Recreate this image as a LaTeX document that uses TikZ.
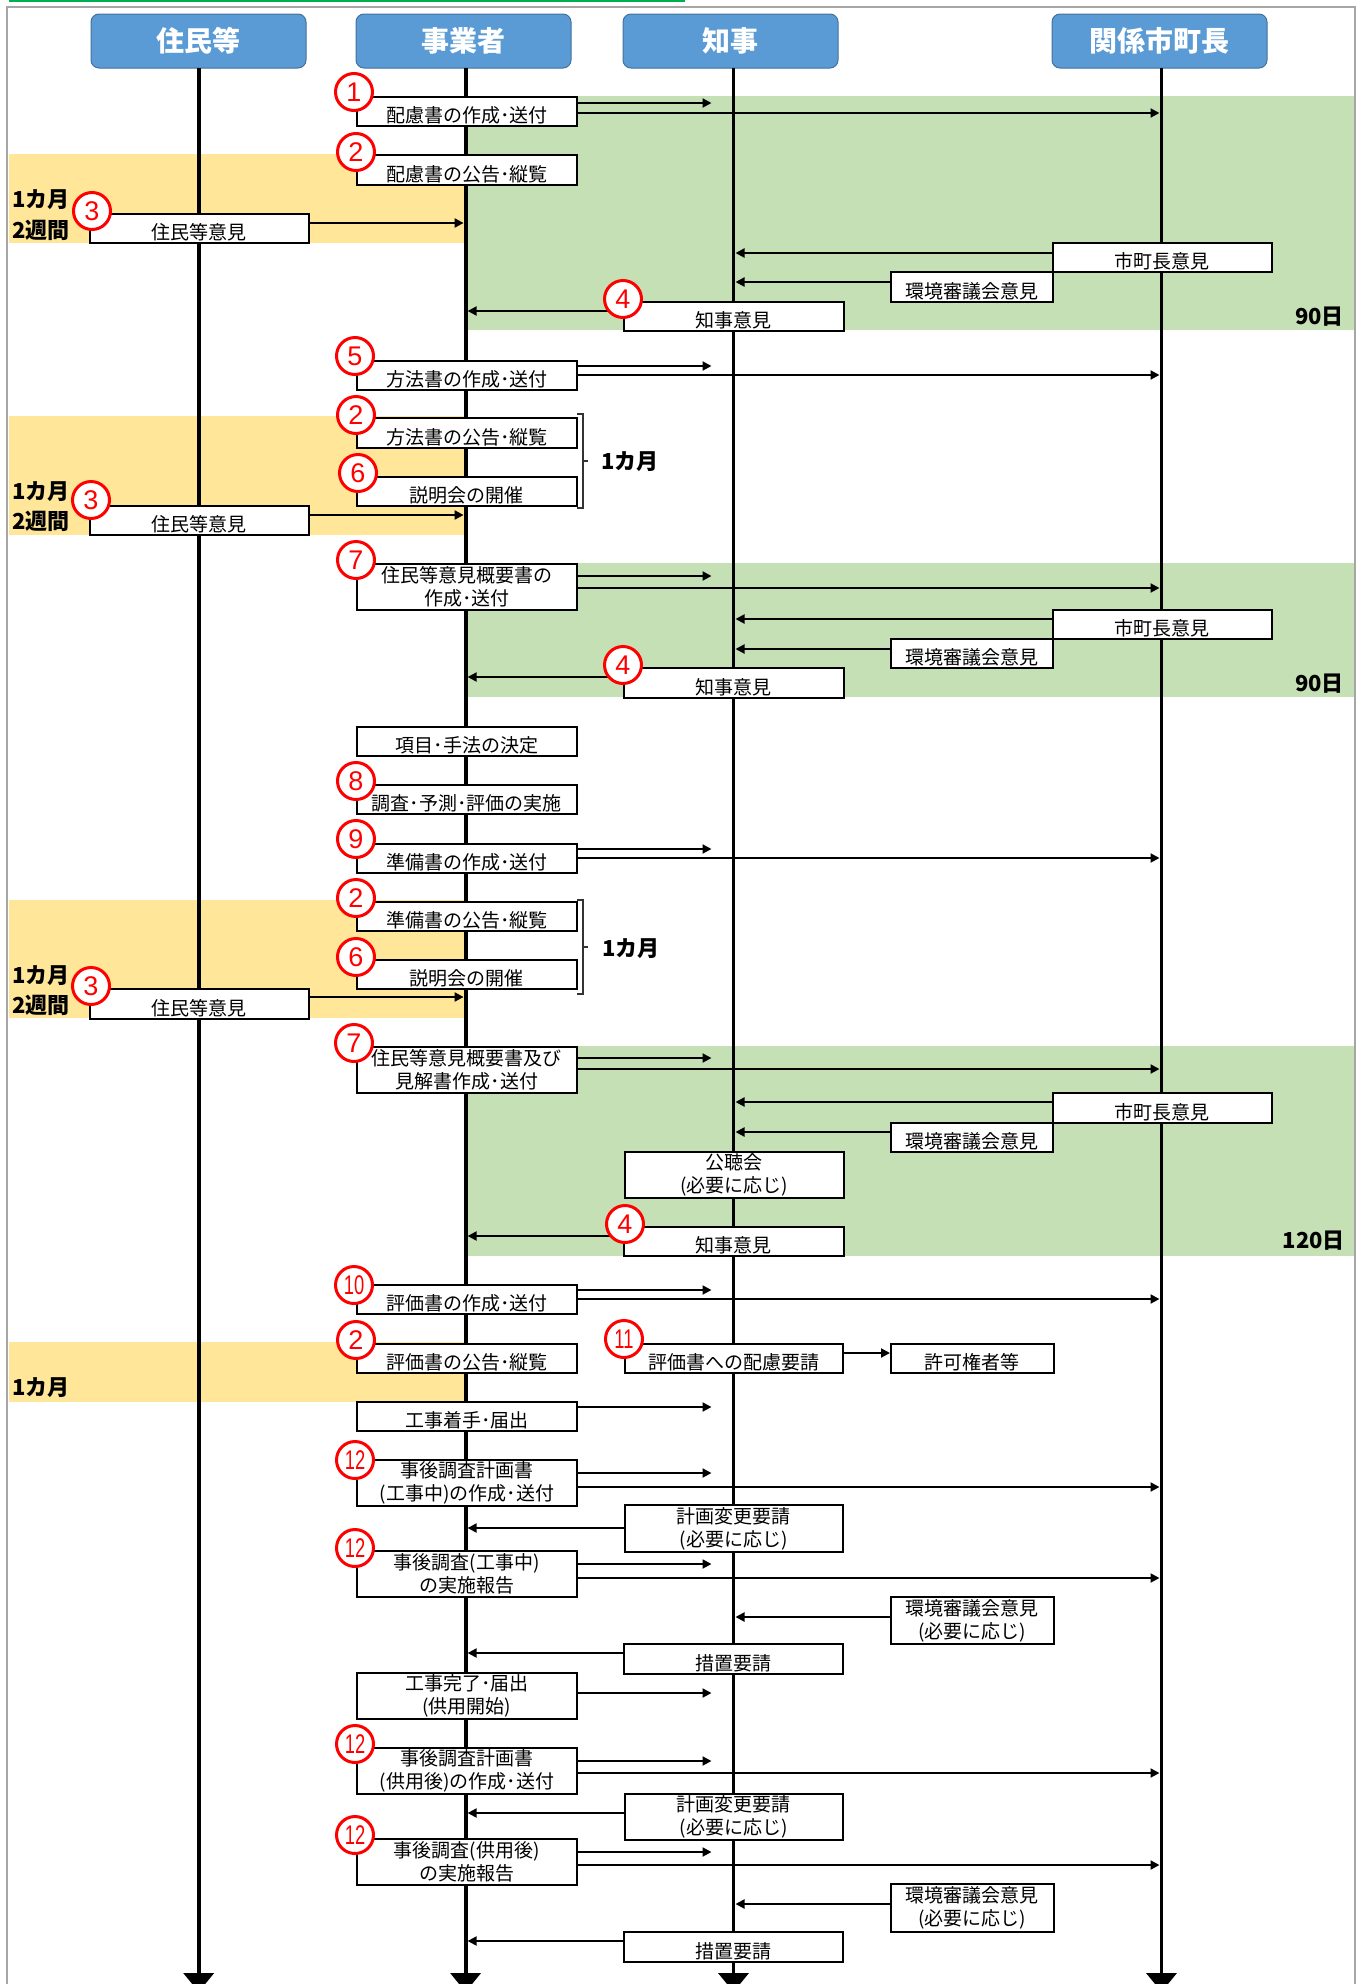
\documentclass[tikz,border=0pt]{standalone}
\usepackage{fontspec}
\usepackage{graphicx}
\usetikzlibrary{arrows.meta}
\newfontfamily\jp{Noto Sans CJK JP}
\newfontfamily\lsans{Liberation Sans}
\definecolor{hdr}{HTML}{5B9BD5}
\definecolor{hdrb}{HTML}{41719C}
\definecolor{grn}{HTML}{C5E0B4}
\definecolor{ylw}{HTML}{FFE699}
\definecolor{brd}{HTML}{A6A6A6}
\definecolor{topg}{HTML}{00B050}
\tikzset{
 hdrbox/.style={draw=hdrb, line width=1pt, fill=hdr, rounded corners=8pt, minimum width=215pt, minimum height=54pt, inner sep=0pt, text=white, font=\jp\bfseries\fontsize{28}{28}\selectfont},
 bx/.style={draw=black, line width=1.8pt, fill=white, anchor=north west, inner xsep=2pt, font=\jp\fontsize{19}{23}\selectfont},
 one/.style={inner ysep=0pt, text height=26pt, text depth=3pt},
 two/.style={align=center, inner ysep=0pt},
 numc/.style={circle, draw=red, line width=3pt, fill=white, minimum size=37pt, inner sep=0pt, text=red, font=\lsans\fontsize{27}{27}\selectfont},
 life/.style={line width=3.8pt, -{Triangle[length=19pt,width=30pt]}},
 arr/.style={line width=2pt, -{Triangle[length=9pt,width=9pt]}},
 lbl/.style={font=\jp\bfseries\fontsize{22}{22}\selectfont, inner sep=0pt},
 brk/.style={line width=1.2pt, black!80},
}
% box: name, x, y, w, h, text
\newcommand\boxone[6]{\node[bx, one, minimum width=#4pt, minimum height=#5pt] (#1) at (#2,#3) {#6};}
\newcommand\boxtwo[6]{\node[bx, two, minimum width=#4pt, minimum height=#5pt] (#1) at (#2,#3) {#6};}
\newcommand\numc[4]{\node[numc] (#1) at (#2,#3) {#4};}
\newcommand\nn[1]{\scalebox{0.68}[1]{#1}}
% arrows
\newcommand\toC[2]{\draw[arr] (#1.east |- 0,#2) -- ([xshift=-22pt]l3 |- 0,#2);}
\newcommand\toK[2]{\draw[arr] (#1.east |- 0,#2) -- ([xshift=-2pt]l4 |- 0,#2);}
\newcommand\toJ[2]{\draw[arr] (#1.west |- 0,#2) -- ([xshift=2pt]l2 |- 0,#2);}
\newcommand\toCr[2]{\draw[arr] (#1.west |- 0,#2) -- ([xshift=2pt]l3 |- 0,#2);}
\newcommand\resJ[2]{\draw[arr] (#1.east |- 0,#2) -- ([xshift=-2pt]l2 |- 0,#2);}
\begin{document}
\begin{tikzpicture}[x=1pt,y=-1pt]
\useasboundingbox (0,0) rectangle (1362,1984);
% backgrounds
\fill[grn] (466,96) rectangle (1355,330);
\fill[grn] (466,563) rectangle (1355,697);
\fill[grn] (466,1046) rectangle (1355,1256);
\fill[ylw] (9,154) rectangle (466,243);
\fill[ylw] (9,416) rectangle (466,535);
\fill[ylw] (9,900) rectangle (466,1018);
\fill[ylw] (9,1342) rectangle (466,1402);
\draw[brd, line width=2pt] (7,7) rectangle (1355,2000);
\draw[topg, line width=2pt] (9,1) -- (685,1);
% headers
\node[hdrbox] (h1) at (198.5,41) {住民等};
\node[hdrbox] (h2) at (463.5,41) {事業者};
\node[hdrbox] (h3) at (730.5,41) {知事};
\node[hdrbox] (h4) at (1159.5,41) {関係市町長};
\coordinate (l1) at (198.7,68);
\coordinate (l2) at (465.6,68);
\coordinate (l3) at (733.5,68);
\coordinate (l4) at (1161.5,68);
\coordinate (e1) at (198.7,1992);
\coordinate (e2) at (465.6,1992);
\coordinate (e3) at (733.5,1992);
\coordinate (e4) at (1161.5,1992);
\draw[life] (l1) -- (e1);
\draw[life] (l2) -- (e2);
\draw[life] (l3) -- (e3);
\draw[life] (l4) -- (e4);
% ---------- section 1
\boxone{b1}{356}{96}{220}{29}{配慮書の作成･送付}
\boxone{b2}{356}{154}{220}{30}{配慮書の公告･縦覧}
\boxone{b3}{89}{213}{219}{29}{住民等意見}
\boxone{b4m}{1052}{242}{219}{29}{市町長意見}
\boxone{b4k}{890}{271}{162}{30}{環境審議会意見}
\boxone{b4c}{623}{301}{220}{29}{知事意見}
\toC{b1}{103}
\toK{b1}{113}
\resJ{b3}{223}
\toCr{b4m}{253}
\toCr{b4k}{282}
\toJ{b4c}{311}
% ---------- section 2
\boxone{b5}{356}{360}{220}{29}{方法書の作成･送付}
\boxone{b6}{356}{417}{220}{30}{方法書の公告･縦覧}
\boxone{b7}{356}{476}{220}{29}{説明会の開催}
\boxone{b8}{89}{505}{219}{29}{住民等意見}
\boxtwo{b9}{356}{563}{220}{46}{住民等意見概要書の\\作成･送付}
\boxone{b10}{1052}{609}{219}{29}{市町長意見}
\boxone{b11}{890}{638}{162}{29}{環境審議会意見}
\boxone{b12}{623}{667}{220}{30}{知事意見}
\toC{b5}{366}
\toK{b5}{375}
\resJ{b8}{515}
\toC{b9}{576}
\toK{b9}{588}
\toCr{b10}{619}
\toCr{b11}{649}
\toJ{b12}{677}
\draw[brk] (577,414) -- (583,414) -- (583,508) -- (577,508);
\draw[brk] (583,461) -- (588,461);
% ---------- section 3
\boxone{b13}{356}{726}{220}{29}{項目･手法の決定}
\boxone{b14}{356}{784}{220}{29}{調査･予測･評価の実施}
\boxone{b15}{356}{843}{220}{29}{準備書の作成･送付}
\boxone{b16}{356}{901}{220}{29}{準備書の公告･縦覧}
\boxone{b17}{356}{959}{220}{29}{説明会の開催}
\boxone{b18}{89}{988}{219}{30}{住民等意見}
\boxtwo{b19}{356}{1046}{220}{46}{住民等意見概要書及び\\見解書作成･送付}
\boxone{b20}{1052}{1092}{219}{30}{市町長意見}
\boxone{b21}{890}{1122}{162}{29}{環境審議会意見}
\boxtwo{b22}{624}{1151}{219}{46}{公聴会\\(必要に応じ)}
\boxone{b23}{623}{1226}{220}{29}{知事意見}
\toC{b15}{849}
\toK{b15}{858}
\resJ{b18}{997}
\toC{b19}{1058}
\toK{b19}{1069}
\toCr{b20}{1102}
\toCr{b21}{1132}
\toJ{b23}{1236}
\draw[brk] (577,900) -- (583,900) -- (583,994) -- (577,994);
\draw[brk] (583,947) -- (588,947);
% ---------- section 4
\boxone{b24}{356}{1284}{220}{29}{評価書の作成･送付}
\boxone{b25}{356}{1343}{220}{29}{評価書の公告･縦覧}
\boxone{b26}{624}{1343}{218}{29}{評価書への配慮要請}
\boxone{b27}{890}{1343}{163}{29}{許可権者等}
\boxone{b28}{356}{1401}{220}{29}{工事着手･届出}
\boxtwo{b29}{356}{1459}{220}{46}{事後調査計画書\\(工事中)の作成･送付}
\boxtwo{b30}{624}{1504}{218}{47}{計画変更要請\\(必要に応じ)}
\boxtwo{b31}{356}{1550}{220}{46}{事後調査(工事中)\\の実施報告}
\boxtwo{b32}{890}{1596}{163}{47}{環境審議会意見\\(必要に応じ)}
\boxone{b33}{623}{1643}{219}{30}{措置要請}
\boxtwo{b34}{356}{1672}{220}{46}{工事完了･届出\\(供用開始)}
\boxtwo{b35}{356}{1747}{220}{46}{事後調査計画書\\(供用後)の作成･送付}
\boxtwo{b36}{624}{1793}{218}{46}{計画変更要請\\(必要に応じ)}
\boxtwo{b37}{356}{1838}{220}{46}{事後調査(供用後)\\の実施報告}
\boxtwo{b38}{890}{1883}{163}{48}{環境審議会意見\\(必要に応じ)}
\boxone{b39}{623}{1931}{219}{30}{措置要請}
\toC{b24}{1290}
\toK{b24}{1299}
\draw[arr] (b26.east |- 0,1353) -- (b27.west |- 0,1353);
\toC{b28}{1407}
\toC{b29}{1473}
\toK{b29}{1487}
\toJ{b30}{1528}
\toC{b31}{1564}
\toK{b31}{1578}
\toCr{b32}{1617}
\toJ{b33}{1653}
\toC{b34}{1693}
\toC{b35}{1761}
\toK{b35}{1773}
\toJ{b36}{1813}
\toC{b37}{1852}
\toK{b37}{1865}
\toCr{b38}{1904}
\toJ{b39}{1941}
% ---------- number circles
\numc{n1}{354}{92}{1}
\numc{n2a}{356}{152}{2}
\numc{n3a}{92}{211}{3}
\numc{n4a}{623}{299}{4}
\numc{n5}{355}{356}{5}
\numc{n2b}{356}{415}{2}
\numc{n6a}{358}{473}{6}
\numc{n3b}{91}{500}{3}
\numc{n7a}{356}{560}{7}
\numc{n4b}{623}{665}{4}
\numc{n8}{356}{781}{8}
\numc{n9}{356}{839}{9}
\numc{n2c}{356}{898}{2}
\numc{n6b}{356}{957}{6}
\numc{n3c}{91}{986}{3}
\numc{n7b}{354}{1043}{7}
\numc{n4c}{625}{1224}{4}
\numc{n10}{354}{1285}{\nn{10}}
\numc{n2d}{356}{1340}{2}
\numc{n11}{624}{1339}{\nn{11}}
\numc{n12a}{355}{1460}{\nn{12}}
\numc{n12b}{355}{1548}{\nn{12}}
\numc{n12c}{355}{1744}{\nn{12}}
\numc{n12d}{355}{1835}{\nn{12}}
% ---------- labels
\node[lbl, anchor=west] (t1a) at (12,200) {1カ月};
\node[lbl, anchor=west] (t1b) at (12,230) {2週間};
\node[lbl, anchor=west] (t2a) at (12,492) {1カ月};
\node[lbl, anchor=west] (t2b) at (12,521) {2週間};
\node[lbl, anchor=west] (t3a) at (12,976) {1カ月};
\node[lbl, anchor=west] (t3b) at (12,1005) {2週間};
\node[lbl, anchor=west] (t4a) at (12,1388) {1カ月};
\node[lbl] (m1) at (630,462) {1カ月};
\node[lbl] (m2) at (631,949) {1カ月};
\node[lbl, anchor=east] (d1) at (1344,317) {90日};
\node[lbl, anchor=east] (d2) at (1344,684) {90日};
\node[lbl, anchor=east] (d3) at (1345,1241) {120日};
\end{tikzpicture}
\end{document}
